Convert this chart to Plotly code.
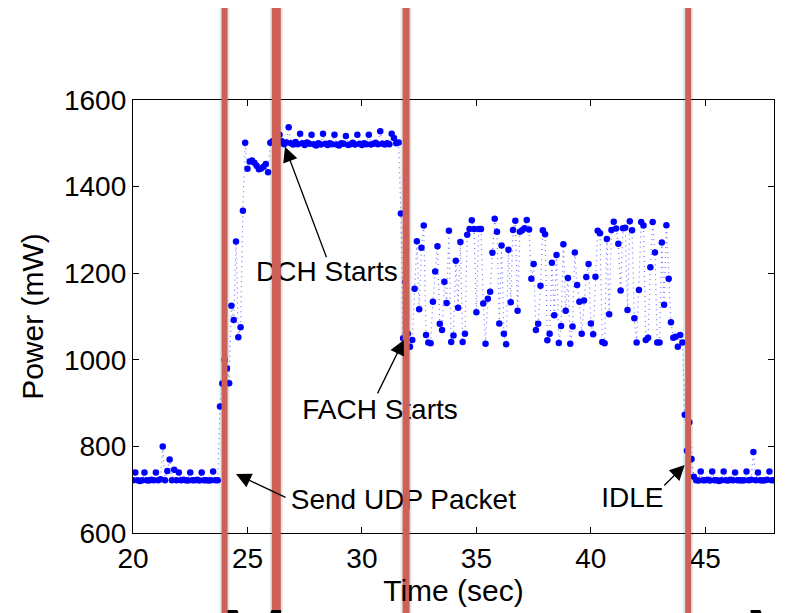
import numpy as np
import plotly.graph_objects as go

# ---------------- data ----------------
t_start = 20.0          # s, first sample
dt = 0.1                # s, sampling period (10 Hz)

idle_before = [722, 740, 722, 720, 722, 740, 722, 721, 723, 722,
               740, 722, 724, 800, 722, 743, 770, 722, 746, 722,
               740, 722, 723, 722, 721, 740, 722, 722, 723, 721,
               740, 722, 722, 721, 722, 742, 722, 722]
ramp_up = [892, 945, 1000, 980, 946, 1125, 1092, 1273, 1052, 1075,
           1344, 1501, 1441, 1458, 1460, 1455, 1448, 1440, 1442, 1446,
           1452, 1433, 1501]
dch = [1505, 1500, 1495, 1520, 1505, 1498, 1502, 1537, 1500, 1497,
       1503, 1498, 1522, 1500, 1496, 1502, 1499, 1520, 1498, 1495,
       1500, 1497, 1522, 1499, 1496, 1500, 1498, 1520, 1497, 1495,
       1500, 1499, 1517, 1496, 1498, 1501, 1497, 1520, 1499, 1496,
       1500, 1498, 1520, 1497, 1499, 1501, 1498, 1528, 1499, 1497,
       1500, 1498, 1522, 1512, 1500, 1502]
dch_to_fach = [1338, 1050, 1180, 1060]
fach = [1030, 1046, 1164, 1274, 1117, 1259, 1310, 1057, 1040, 1038,
        1134, 1204, 1262, 1083, 1069, 1180, 1131, 1298, 1041, 1056,
        1229, 1120, 1272, 1041, 1060, 1289, 1302, 1322, 1302, 1110,
        1302, 1302, 1130, 1037, 1141, 1157, 1247, 1326, 1296,
        1084, 1264, 1060, 1036, 1254, 1133, 1300, 1321, 1113, 1296,
        1299, 1304, 1323, 1301, 1187, 1221, 1069, 1083, 1171, 1299,
        1290, 1045, 1060, 1224, 1103, 1242, 1039, 1078, 1267, 1113,
        1189, 1037, 1077, 1248, 1173, 1134, 1060, 1137, 1191, 1221,
        1084, 1059, 1192, 1298, 1292, 1041, 1038, 1279, 1105, 1300,
        1319, 1303, 1268, 1160, 1304, 1305, 1115, 1320, 1299, 1096,
        1040, 1161, 1318, 1310, 1046, 1051, 1214, 1318, 1248, 1040,
        1040, 1271, 1127, 1311, 1187, 1087, 1051, 1053, 1030, 1057]
fach_to_idle = [1040, 873, 790, 856, 771, 730]
idle_after = [722, 721, 742, 722, 722, 723, 721, 742, 722, 722,
              720, 722, 742, 722, 721, 723, 722, 740, 722, 722,
              721, 722, 742, 722, 723, 787, 722, 740, 722, 721,
              722, 723, 742, 722, 722]

power_mw = idle_before + ramp_up + dch + dch_to_fach + fach + fach_to_idle + idle_after
time_s = t_start + dt * np.arange(len(power_mw))

# state-change markers (s)
marker_times = [24.0, 26.26, 31.93, 44.25]
marker_widths = [6, 9, 7, 6]

# annotations: label, label position (t, mW), arrow tip (t, mW), tail offset px
labels = ["DCH Starts", "FACH Starts", "Send UDP Packet", "IDLE"]
label_t = [28.47, 30.79, 31.81, 41.81]
label_p = [1198, 880, 672, 676]
tip_t = [26.64, 31.83, 24.50, 44.10]
tip_p = [1492, 1046, 736, 757]
tail_dx = [42, -27, 51, -22]
tail_dy = [112, 55, 24, 22]

# partially visible slide-title glyphs below the chart
footer_text = ["M", "M"]
footer_x = [0.19, 1.005]

x_ticks = [20, 25, 30, 35, 40, 45]
y_ticks = [600, 800, 1000, 1200, 1400, 1600]

FONT = "Liberation Sans, Arial, Helvetica, sans-serif"

fig = go.Figure()
fig.add_trace(go.Scatter(
    x=time_s, y=power_mw, mode="lines+markers",
    line=dict(color="rgba(0,0,255,0.55)", width=1.2, dash="1px,4px"),
    marker=dict(color="#0000ff", size=6.5, line=dict(width=0)),
    showlegend=False, hoverinfo="skip"))

fig.add_trace(go.Scatter(
    x=label_t, y=label_p, mode="text", text=labels,
    textposition="middle center",
    textfont=dict(family=FONT, size=28, color="black"),
    cliponaxis=False, showlegend=False, hoverinfo="skip"))

# figure sits at an 8 px page offset; plot area spans px 92..525 vertically
top_paper = 1 + 92 / 433
shapes = []
for t, w in zip(marker_times, marker_widths):
    shapes.append(dict(type="line", xref="x", yref="paper", x0=t, x1=t,
                       y0=-0.25, y1=top_paper, layer="above",
                       line=dict(color="rgba(0,0,0,0.10)", width=w + 4)))
    shapes.append(dict(type="line", xref="x", yref="paper", x0=t, x1=t,
                       y0=-0.25, y1=top_paper, layer="above",
                       line=dict(color="#cd6158", width=w)))

annotations = []
for tt, pp, dx, dy in zip(tip_t, tip_p, tail_dx, tail_dy):
    annotations.append(dict(x=tt, y=pp, xref="x", yref="y", text="",
                            showarrow=True, ax=dx, ay=dy,
                            arrowhead=2, arrowsize=2.3, arrowwidth=1.3,
                            arrowcolor="black", standoff=0))
for txt, fx in zip(footer_text, footer_x):
    annotations.append(dict(x=fx, y=-0.137, xref="paper", yref="paper",
                            text=txt, showarrow=False, xanchor="center",
                            yanchor="top", borderpad=0,
                            font=dict(family=FONT, size=80, color="black")))

axis_common = dict(showline=True, linecolor="black", linewidth=1.3,
                   mirror="ticks", ticks="inside", ticklen=6,
                   tickcolor="black", tickwidth=1.2, showgrid=False,
                   zeroline=False, automargin=False,
                   tickfont=dict(family=FONT, size=28, color="black"))

fig.update_layout(
    width=780, height=605,
    margin=dict(l=125, r=14, t=92, b=80),
    paper_bgcolor="white", plot_bgcolor="white",
    shapes=shapes, annotations=annotations,
    xaxis=dict(range=[20, 48], tickvals=x_ticks,
               title=dict(text="Time (sec)", standoff=0,
                          font=dict(family=FONT, size=30, color="black")),
               **axis_common),
    yaxis=dict(range=[600, 1600], tickvals=y_ticks,
               title=dict(text="Power (mW)", standoff=11,
                          font=dict(family=FONT, size=30, color="black")),
               **axis_common),
)

fig.write_html("out.html")
